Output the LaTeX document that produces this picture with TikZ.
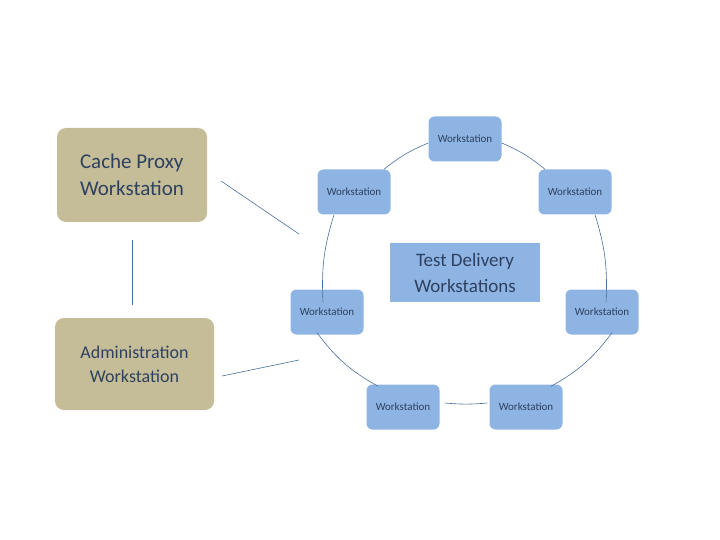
\documentclass[tikz,border=0pt]{standalone}
\usepackage{fontspec}
\setmainfont{Carlito}
\begin{document}
\begin{tikzpicture}[x=1pt,y=-1pt,
 ws/.style={fill=wsblue,rounded corners=6pt,minimum width=73pt,minimum height=45pt,inner sep=0pt,font=\fontsize{11}{13}\selectfont,text=txt},
 tan/.style={fill=tanc,rounded corners=9pt,inner sep=0pt,text=txt},
 ln/.style={draw=lnc,line width=0.6pt}]
\definecolor{wsblue}{HTML}{8EB4E3}
\definecolor{tanc}{HTML}{C4BD97}
\definecolor{txt}{HTML}{2E4160}
\definecolor{lnc}{HTML}{4A6F9A}
\useasboundingbox (0,0) rectangle (720,540);
\node[tan,minimum width=150pt,minimum height=94pt,align=left,font=\fontsize{21}{27}\selectfont] (cache) at (132,175) {Cache Proxy\\Workstation};
\node[tan,minimum width=159pt,minimum height=92pt,align=center,font=\fontsize{18}{24}\selectfont] (admin) at (134.5,364) {Administration\\Workstation};
\node[ws] (t) at (465,139) {Workstation};
\node[ws] (ul) at (354,192) {Workstation};
\node[ws] (ur) at (575,192) {Workstation};
\node[ws] (ml) at (327,312) {Workstation};
\node[ws] (mr) at (602,312) {Workstation};
\node[ws] (bl) at (403,407) {Workstation};
\node[ws] (br) at (526,407) {Workstation};
\node[fill=wsblue,minimum width=150pt,minimum height=59pt,inner sep=0pt,align=center,text=txt,font=\fontsize{19}{26}\selectfont] (td) at (465,272.5) {Test Delivery\\Workstations};
\coordinate (c1) at (221,181); \coordinate (c2) at (299,234);
\coordinate (a1) at (222,376); \coordinate (a2) at (299,360);
\coordinate (v1) at (132,240); \coordinate (v2) at (132,305);
\draw[ln] (c1) -- (c2);
\draw[ln] (a1) -- (a2);
\draw[ln] (v1) -- (v2);
\draw[ln] ([yshift=-4pt]t.west) to[bend right=8] ([xshift=30pt]ul.north);
\draw[ln] ([yshift=-4pt]t.east) to[bend left=8] ([xshift=-30pt]ur.north);
\draw[ln] ([xshift=-20pt]ul.south) to[bend right=10] ([xshift=-4pt,yshift=-13pt]ml.north);
\draw[ln] ([xshift=20pt]ur.south) to[bend left=10] ([xshift=4pt,yshift=-13pt]mr.north);
\draw[ln] ([xshift=-10pt,yshift=2pt]ml.south) to[bend right=12] ([xshift=-25pt,yshift=-2pt]bl.north);
\draw[ln] ([xshift=10pt,yshift=2pt]mr.south) to[bend left=12] ([xshift=25pt,yshift=-2pt]br.north);
\draw[ln] ([xshift=5pt,yshift=4pt]bl.east) to[bend right=5] ([xshift=-2pt,yshift=4pt]br.west);
\end{tikzpicture}
\end{document}
